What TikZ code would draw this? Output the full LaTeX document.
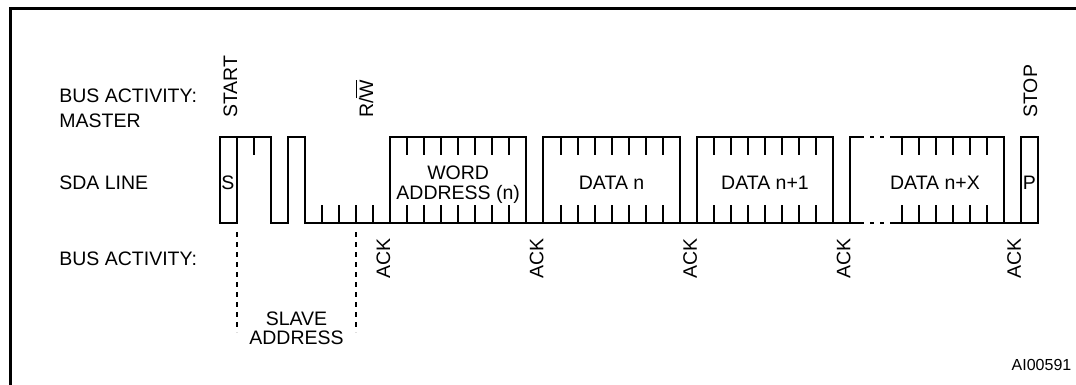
\documentclass[tikz,border=0pt]{standalone}
\usepackage{fontspec}
\setmainfont{Liberation Sans}
\usetikzlibrary{calc}

\begin{document}
\begin{tikzpicture}[x=0.5pt,y=-0.5pt,
  sig/.style={line width=1pt,line join=miter,line cap=rect},
  lbl/.style={inner sep=0pt,font=\fontsize{9.75}{10}\selectfont},
  acklbl/.style={lbl,rotate=90,anchor=base west}]
\def\bitw{17.05}
\def\sdahi{137}
\def\sdalo{223}
\newcommand{\databyte}[2]{
  \draw[sig] (#1,\sdalo) -- (#1,\sdahi) -- (#2,\sdahi) -- (#2,\sdalo);
  \foreach \k in {1,...,7} {
    \draw[sig] (#1+\k*\bitw,\sdahi) -- ++(0,17);
    \draw[sig] (#1+\k*\bitw,\sdalo) -- ++(0,-17);
  }
}

\useasboundingbox (0,0) rectangle (1076,385);
% frame, open at the cut edges
\draw[line width=1.5pt] (10,390) -- (10,9) -- (1080,9);

% left hand labels
\node[lbl,anchor=base west] (busmaster) at (59,103) {BUS ACTIVITY:};
\node[lbl,anchor=base west] (master) at (59,127) {MASTER};
\node[lbl,anchor=base west] (sdaline) at (59,189) {SDA LINE};
\node[lbl,anchor=base west] (busslave) at (59,265) {BUS ACTIVITY:};

% start, slave address and R/W
\draw[sig] (219.5,\sdahi) rectangle (236.55,\sdalo);
\draw[sig] (236.55,\sdahi) -- (271.15,\sdahi) -- (271.15,\sdalo) -- (288.2,\sdalo)
  -- (288.2,\sdahi) -- (305.25,\sdahi) -- (305.25,\sdalo) -- (860,\sdalo);
\draw[sig] (253.6,\sdahi) -- ++(0,17);
\foreach \k in {5,...,8}
  \draw[sig] (236.55+\k*\bitw,\sdalo) -- ++(0,-17);

% word address and data bytes
\databyte{390}{526.4}
\databyte{543.45}{679.85}
\databyte{696.9}{833.3}

% last data byte, partly dotted
\draw[sig] (850.35,\sdalo) -- (850.35,\sdahi) -- (860,\sdahi);
\draw[sig,line cap=butt,dash pattern=on 2pt off 3pt] (860,\sdahi) -- (892,\sdahi);
\draw[sig,line cap=butt,dash pattern=on 2pt off 3pt] (860,\sdalo) -- (892,\sdalo);
\draw[sig] (892,\sdahi) -- (1003.8,\sdahi) -- (1003.8,\sdalo);
\draw[sig] (892,\sdalo) -- (1037.9,\sdalo);
\foreach \k in {3,...,8} {
  \draw[sig] (850.35+\k*\bitw,\sdahi) -- ++(0,17);
  \draw[sig] (850.35+\k*\bitw,\sdalo) -- ++(0,-17);
}

% stop
\draw[sig] (1020.85,\sdahi) rectangle (1037.9,\sdalo);

% slave address markers
\draw[line width=1pt,dash pattern=on 2.5pt off 2.5pt] (236.55,232) -- (236.55,332);
\draw[line width=1pt,dash pattern=on 2.5pt off 2.5pt] (355.9,232) -- (355.9,332);

% texts in the line
\node[lbl,anchor=base] (startbit) at (228,189) {S};
\node[lbl,anchor=base] (stopbit) at (1029.4,189) {P};
\node[lbl,anchor=base] (word) at (458.2,179) {WORD};
\node[lbl,anchor=base] (wordaddr) at (458.2,199) {ADDRESS (n)};
\node[lbl,anchor=base] (datan) at (611.6,189) {DATA n};
\node[lbl,anchor=base] (datan1) at (765,189) {DATA n+1};
\node[lbl,anchor=base] (datanx) at (935,189) {DATA n+X};
\node[lbl,anchor=base] (slave) at (296.5,325) {SLAVE};
\node[lbl,anchor=base] (slaveaddr) at (296.5,344) {ADDRESS};

% rotated labels
\node[acklbl] (start) at (237,118) {START};
\node[acklbl] (rw) at (373,118) {R/$\overline{\hbox{W}}$};
\node[acklbl] (stop) at (1037,118) {STOP};
\node[acklbl] (ack1) at (390,279) {ACK};
\node[acklbl] (ack2) at (543.45,279) {ACK};
\node[acklbl] (ack3) at (696.9,279) {ACK};
\node[acklbl] (ack4) at (850.35,279) {ACK};
\node[acklbl] (ack5) at (1020.85,279) {ACK};

\node[inner sep=0pt,anchor=base east,font=\fontsize{8}{9}\selectfont] (fignum) at (1071.7,370.5) {AI00591};

\end{tikzpicture}
\end{document}
